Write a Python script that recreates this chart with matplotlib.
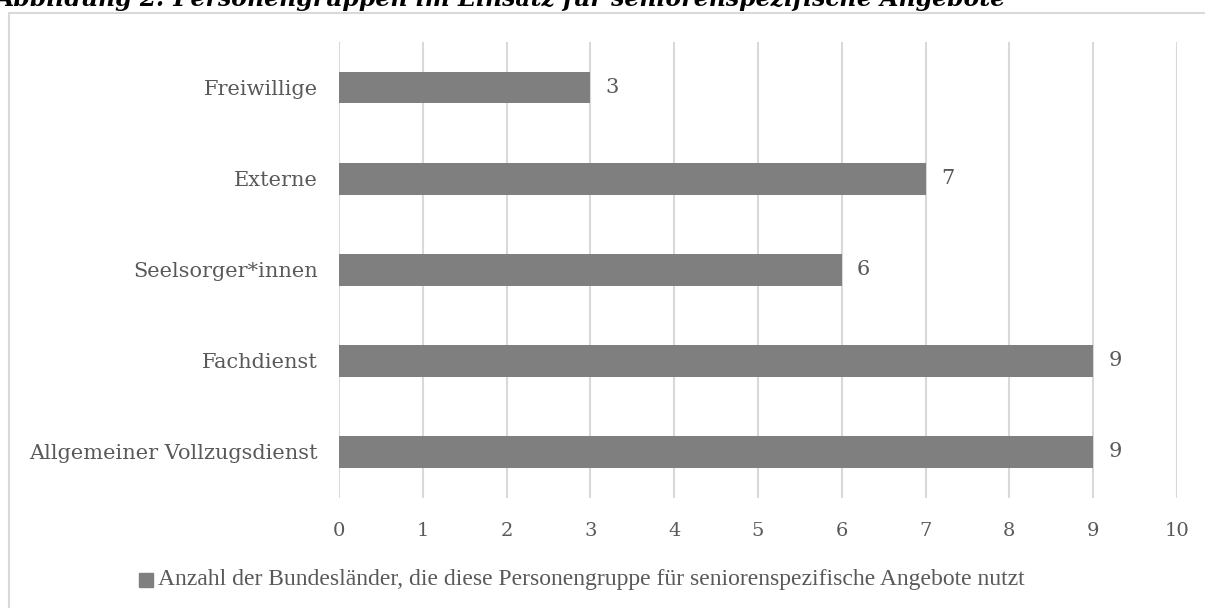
import matplotlib
matplotlib.use("Agg")
import matplotlib.pyplot as plt
from matplotlib.patches import Rectangle

# data (top to bottom as in the chart)
gruppen = ["Freiwillige", "Externe", "Seelsorger*innen", "Fachdienst", "Allgemeiner Vollzugsdienst"]
anzahl = [3, 7, 6, 9, 9]
xticks = list(range(0, 11))
legende = "Anzahl der Bundesländer, die diese Personengruppe für seniorenspezifische Angebote nutzt"
titel = "Abbildung 2: Personengruppen im Einsatz für seniorenspezifische Angebote"

W, H = 1205, 608
fig = plt.figure(figsize=(W / 100, H / 100), dpi=100)
ax = fig.add_axes([339 / W, 1 - 497.5 / H, (1177 - 339) / W, (497.5 - 42) / H])

txt = "#595959"
grid = "#d9d9d9"
bar_col = "#7f7f7f"
serif = "DejaVu Serif"

ypos = list(range(len(gruppen)))
bars = ax.barh(ypos, anzahl, height=0.35, color=bar_col, zorder=3)
ax.set_ylim(len(gruppen) - 0.5, -0.5)
ax.set_xlim(0, 10)
ax.set_xticks(xticks)
ax.set_xticklabels([str(t) for t in xticks], fontfamily=serif, fontsize=14, color=txt)
ax.set_yticks(ypos)
ax.set_yticklabels(gruppen, fontfamily=serif, fontsize=15, color=txt)
ax.tick_params(axis="x", length=0, pad=18)
ax.tick_params(axis="y", length=0, pad=15)
ax.xaxis.grid(True, color=grid, linewidth=1.5, zorder=0)
for s in ax.spines.values():
    s.set_visible(False)

for b, v in zip(bars, anzahl):
    ax.annotate(str(v), (b.get_width(), b.get_y() + b.get_height() / 2),
                xytext=(11, 0), textcoords="offset points", va="center", ha="left",
                fontfamily=serif, fontsize=15, color=txt)

# legend
fig.patches.append(Rectangle((139 / W, 1 - 587 / H), 14 / W, 14 / H,
                             transform=fig.transFigure, color=bar_col))
fig.text(158 / W, 1 - 580 / H, legende, ha="left", va="center",
         fontfamily="Liberation Serif", fontsize=17, color=txt)

# chart border
fig.patches.append(Rectangle((9 / W, -0.1), 1.2, 1 - 13 / H + 0.1,
                             transform=fig.transFigure, fill=False,
                             edgecolor=grid, linewidth=1.5))

# clipped title
fig.text(-4 / W, 1 - 6 / H, titel, ha="left", va="baseline",
         fontfamily=serif, fontsize=17, fontstyle="italic", fontweight="bold", color="black")

fig.savefig("out.png", dpi=100)
